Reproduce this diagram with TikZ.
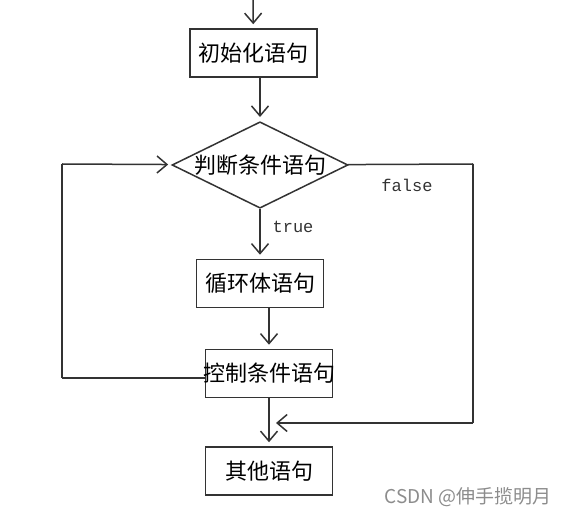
\documentclass[tikz,border=0pt]{standalone}
\usepackage{fontspec}
\newfontfamily\cjk{Noto Sans CJK SC}
\newfontfamily\mono{Liberation Mono}
\usetikzlibrary{shapes,arrows.meta}

\tikzset{
  box/.style={shape=rectangle,draw=black!80,line width=1.5pt,inner sep=0pt,minimum width=127pt,minimum height=48pt,font=\cjk\fontsize{22}{22}\selectfont},
  cond/.style={shape=diamond,draw=black!80,line width=1.5pt,inner sep=0pt,aspect=2,minimum width=176pt,minimum height=86pt,font=\cjk\fontsize{22}{22}\selectfont},
  flow/.style={-{Straight Barb[length=10pt,width=17pt]},draw=black!80,line width=1.5pt,shorten >=4pt},
  wire/.style={-,draw=black!80,line width=1.5pt},
  tag/.style={font=\mono\fontsize{17}{17}\selectfont,text=black!80,inner sep=0pt},
}

\begin{document}
\begin{tikzpicture}[x=1pt,y=-1pt]
\useasboundingbox (0,0) rectangle (565,518);
\node[box] (0) at (253.5,53) {初始化语句};
\node[cond] (1) at (260,165) {判断条件语句};
\node[box] (2) at (260,283.5) {循环体语句};
\node[box] (3) at (269,373.5) {\makebox[100pt]{控制条件语句}};
\node[box] (4) at (269,471) {其他语句};
\coordinate (5) at (253,0);
\coordinate (6) at (62,378);
\coordinate (7) at (62,164);
\coordinate (8) at (473,164);
\coordinate (9) at (473,423);
\coordinate (10) at (272,423);
\node[tag] (11) at (293,227) {true};
\node[tag] (12) at (407,185) {false};
\node[font=\cjk\fontsize{19}{19}\selectfont,text=black!45,inner sep=0pt] (13) at (468,497) {CSDN @伸手揽明月};

\path (5) edge [flow] node {} (0);
\path (1.north |- 0.south) edge [flow] node {} (1.north);
\path (1) edge [flow] node {} (2);
\path (3.north |- 2.south) edge [flow] node {} (3.north);
\path (3) edge [flow] node {} (4);
\path (6 -| 3.west) edge [wire] node {} (6);
\path (6) edge [wire] node {} (7);
\path (7) edge [flow] node {} (1);
\path (1) edge [wire] node {} (8);
\path (8) edge [wire] node {} (9);
\path (9) edge [flow] node {} (10);
\end{tikzpicture}
\end{document}
